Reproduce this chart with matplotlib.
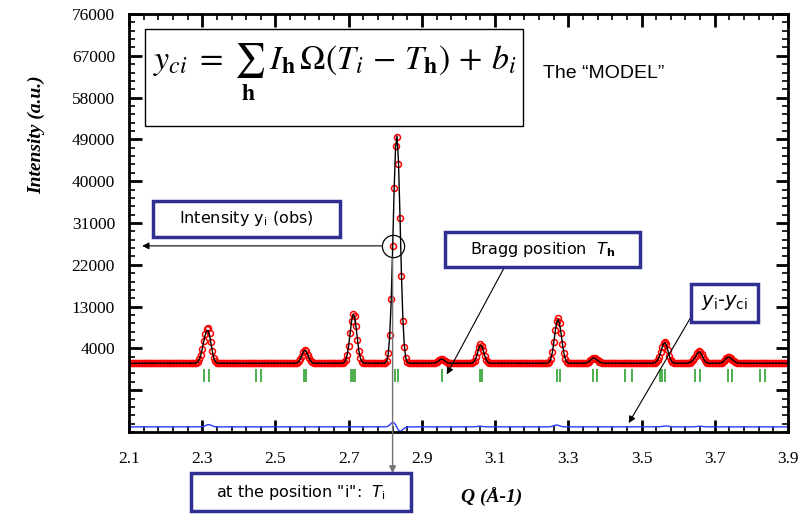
import numpy as np
import matplotlib.pyplot as plt
from matplotlib.ticker import AutoMinorLocator
from matplotlib.patches import Rectangle

plt.rcParams['mathtext.fontset'] = 'dejavusans'

# Bragg positions T_h (green ticks) and peak intensities
T_h = np.array([2.3055, 2.3172, 2.4465, 2.4602, 2.5783, 2.5829,
                2.7066, 2.7120, 2.7175, 2.8266, 2.8356, 2.9540,
                3.0585, 3.0632, 3.2678, 3.2768, 3.3677, 3.3786,
                3.4560, 3.4740, 3.5497, 3.5560, 3.5652, 3.6452,
                3.6588, 3.7360, 3.7480, 3.8225, 3.8380])
I_calc = np.array([3200, 5800, 0, 0, 1500, 1400,
                   2500, 5000, 4500, 28000, 29500, 900,
                   2100, 2000, 6000, 5000, 1000, 300,
                   0, 0, 300, 1200, 3700, 600,
                   2300, 1200, 400, 0, 0])
I_obs = np.array([3200, 6300, 0, 0, 1500, 1400,
                  2500, 5000, 4500, 28000, 29500, 900,
                  2250, 2000, 6400, 5000, 1000, 300,
                  0, 0, 300, 1200, 3900, 600,
                  2450, 1200, 400, 0, 0])
dT_obs = np.array([0, 0, 0, 0, 0, 0, 0, 0, 0, -0.0003, -0.0003, 0,
                   0, 0, 0, 0, 0, 0, 0, 0, 0, 0, 0, 0, 0, 0, 0, 0, 0])
background = 800
sigma = 0.008
diff_offset = -12900
tick_lo, tick_hi = -3300, -500
T_i = 2.82   # the highlighted point "i"

Q = np.arange(2.1, 3.9001, 0.004)

def profile(q, pos, inten):
    y = np.full_like(q, background, dtype=float)
    for p, a in zip(pos, inten):
        y += a * np.exp(-(q - p) ** 2 / (2 * sigma ** 2))
    return y

y_obs = profile(Q, T_h + dT_obs, I_obs)
y_calc = profile(Q, T_h, I_calc)
y_diff = y_obs - y_calc + diff_offset

xticks = np.arange(2.1, 3.91, 0.2)
yticks = np.arange(-5000, 76001, 9000)
ytick_labels = [''] + [str(v) for v in yticks[1:]]

W, H = 808, 514
fig = plt.figure(figsize=(W / 100, H / 100), dpi=100)
ax = fig.add_axes([129 / W, 1 - 432 / H, (788 - 129) / W, (432 - 14) / H])

def px(x, y):
    return (x / W, 1 - y / H)

ax.plot(Q, y_obs, 'o', ms=4.3, mfc='none', mec='red', mew=1.1, zorder=2)
ax.plot(Q, y_calc, '-', color='black', lw=1.0, zorder=3)
ax.vlines(T_h, tick_lo, tick_hi, color='#2ea02e', lw=1.2, zorder=2)
ax.plot(Q, y_diff, '-', color='#2b3bff', lw=1.0, zorder=2)

ax.set_xlim(2.1, 3.9)
ax.set_ylim(-14000, 76000)
ax.set_xticks(xticks)
ax.set_xticklabels(['%.1f' % v for v in xticks])
ax.set_yticks(yticks)
ax.set_yticklabels(ytick_labels)
ax.xaxis.set_minor_locator(AutoMinorLocator(5))
ax.yaxis.set_minor_locator(AutoMinorLocator(5))
ax.tick_params(which='both', direction='in', top=True, right=True)
ax.tick_params(which='major', length=9, width=2)
ax.tick_params(which='minor', length=4, width=1.2)
ax.tick_params(axis='x', pad=14)
ax.tick_params(axis='y', pad=10)
for lab in ax.get_xticklabels() + ax.get_yticklabels():
    lab.set_fontfamily('Liberation Serif')
    lab.set_fontsize(12.5)
for s in ax.spines.values():
    s.set_linewidth(2)

fig.text(*px(37, 135), 'Intensity (a.u.)', rotation=90, ha='center', va='center',
         family='Liberation Serif', weight='bold', style='italic', fontsize=14)
fig.text(*px(492, 497), 'Q (Å-1)', ha='center', va='center',
         family='Liberation Serif', weight='bold', style='italic', fontsize=14)

# formula box
x0, y0 = px(145, 126)
x1, y1 = px(523, 29)
fig.add_artist(Rectangle((x0, y0), x1 - x0, y1 - y0, transform=fig.transFigure,
                         fill=False, edgecolor='black', lw=1.0))
fig.text(*px(335, 72),
         r'$y_{ci}\;=\;\sum_{\mathbf{h}}\,\,I_{\mathbf{h}}\,\Omega(T_i\,-\,T_{\mathbf{h}})\,+\,b_i$',
         ha='center', va='center', fontsize=24.5, math_fontfamily='stix')
fig.text(*px(543, 74), 'The \u201cMODEL\u201d', ha='left', va='center',
         family='Liberation Sans', fontsize=14)

def label_box(left, top, right, bottom, text, size=11.5):
    bx0, by0 = px(left, bottom)
    bx1, by1 = px(right, top)
    fig.add_artist(Rectangle((bx0, by0), bx1 - bx0, by1 - by0, transform=fig.transFigure,
                             facecolor='white', edgecolor='#2f2f8f', lw=2.5, zorder=5))
    fig.text((bx0 + bx1) / 2, (by0 + by1) / 2, text, ha='center', va='center',
             fontsize=size, zorder=6)

label_box(153, 201, 340, 237, r'Intensity y$_{\rm i}$ (obs)')
label_box(445, 232, 640, 267, r'Bragg position  $T_{\mathbf{h}}$')
label_box(691, 284, 758, 322, r'$y_{\rm i}$-$y_{\rm ci}$', size=14)
label_box(191, 473, 411, 511, r'at the position "i":  $T_{\rm i}$')

# highlighted point i
k = np.argmin(np.abs(Q - T_i))
qi, yi = Q[k], y_obs[k]
ax.plot(qi, yi, 'o', ms=16, mfc='none', mec='black', mew=0.9, zorder=4)
ax.annotate('', xy=(0.02, yi), xycoords=('axes fraction', 'data'),
            xytext=(qi, yi), textcoords='data',
            arrowprops=dict(arrowstyle='-|>', color='black', lw=0.8,
                            shrinkA=8, shrinkB=0, mutation_scale=10))
ax.annotate('', xy=(qi, 1 - 473 / H), xycoords=('data', 'figure fraction'),
            xytext=(qi, yi), textcoords='data', annotation_clip=False,
            arrowprops=dict(arrowstyle='-|>', color='0.45', lw=1.0,
                            shrinkA=8, shrinkB=0, mutation_scale=10))
ax.annotate('', xy=(2.968, -1600), xycoords='data',
            xytext=px(504, 268), textcoords='figure fraction',
            arrowprops=dict(arrowstyle='-|>', color='black', lw=0.8,
                            shrinkA=0, shrinkB=0, mutation_scale=10))
ax.annotate('', xy=(3.465, -12070), xycoords='data',
            xytext=px(691, 317), textcoords='figure fraction',
            arrowprops=dict(arrowstyle='-|>', color='black', lw=0.8,
                            shrinkA=0, shrinkB=0, mutation_scale=10))

fig.savefig('out.png', dpi=100)
